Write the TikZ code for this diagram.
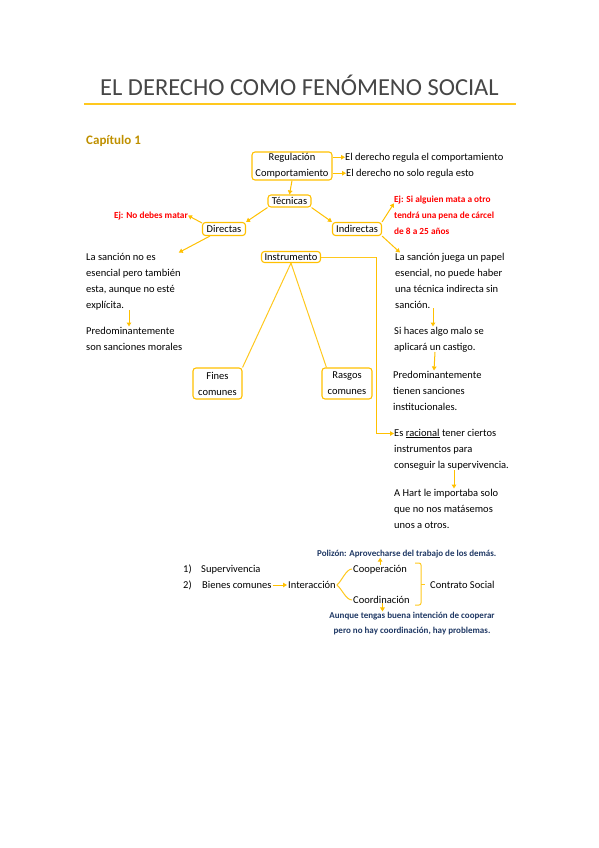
\documentclass[tikz,border=0pt]{standalone}
\usepackage{fontspec}
\setmainfont{Carlito}
\usetikzlibrary{arrows.meta, positioning, calc}
\definecolor{derechogold}{RGB}{255,192,0}
\definecolor{derecholine}{RGB}{255,200,30}
\definecolor{capgold}{RGB}{191,144,0}
\definecolor{titlegray}{RGB}{70,70,70}
\definecolor{ejred}{RGB}{255,0,0}
\definecolor{notablue}{RGB}{31,56,100}

\begin{document}
\begin{tikzpicture}[x=1pt, y=-1pt,
  box/.style={draw=derechogold, line width=1.1pt, rounded corners=3pt,
    inner sep=1.5pt, align=center, font=\fontsize{10.5}{16}\selectfont},
  txt/.style={anchor=base west, inner sep=0pt, align=left,
    font=\fontsize{10.5}{16}\selectfont},
  ej/.style={txt, text=ejred, font=\fontsize{9.3}{16}\selectfont\bfseries},
  nota/.style={txt, text=notablue, font=\fontsize{9}{15}\selectfont\bfseries},
  arr/.style={-{Triangle[length=4pt,width=4.5pt]}, derechogold, line width=1pt},
  ln/.style={derecholine, line width=1pt}
]
\useasboundingbox (0,0) rectangle (599,848);

% Title
\node[anchor=base west, inner sep=0pt, text=titlegray,
      font=\fontsize{24.5}{30}\selectfont] (title) at (100,96)
  {EL DERECHO COMO FENÓMENO SOCIAL};
\draw[derecholine, line width=1.2pt] (84,104) -- (516,104);
\node[anchor=base west, inner sep=0pt, text=capgold,
      font=\fontsize{13}{15}\selectfont\bfseries] (cap) at (86,144)
  {Capítulo 1};

% Boxes
\node[box, minimum width=80pt, minimum height=28pt] (Reg) at (292,166)
  {Regulación\\Comportamiento};
\node[box, minimum width=43pt, minimum height=12pt] (Tec) at (289.5,201) {Técnicas};
\node[box, minimum width=43pt, minimum height=13pt] (Dir) at (224,229) {Directas};
\node[box, minimum width=49pt, minimum height=13pt] (Ind) at (357,229) {Indirectas};
\node[box, minimum width=59pt, minimum height=11pt] (Ins) at (291,257) {Instrumento};
\node[box, minimum width=49pt, minimum height=31pt] (Fin) at (217.5,383.5)
  {Fines\\comunes};
\node[box, minimum width=50pt, minimum height=31pt] (Ras) at (347,383.5)
  {Rasgos\\comunes};

% Regulacion texts
\node[txt] (RegA) at (345,160) {El derecho regula el comportamiento};
\node[txt] (RegB) at (346,176) {El derecho no solo regula esto};
\draw[arr] (Reg.east |- RegA.west) -- (RegA.west);
\draw[arr] (Reg.east |- RegB.west) -- (RegB.west);
\draw[arr] (Reg.south) -- (Tec.north);

% Tecnicas branches
\draw[arr] (Tec.south west) -- (Dir.north east);
\draw[arr] (Tec.south east) -- (Ind.north west);

% Left annotations (Directas)
\node[ej, anchor=base east] (EjL) at (188,218) {Ej: No debes matar};
\node[txt] (L1) at (86,308)
  {La sanción no es\\esencial pero también\\esta, aunque no esté\\explícita.};
\node[txt] (L2) at (86,350) {Predominantemente\\son sanciones morales};
\draw[arr] ([yshift=-1pt]Dir.north west) -- (EjL.east);
\draw[arr] ([xshift=8pt]Dir.south west) -- ([xshift=-2pt]L1.north east);
\draw[arr] ([xshift=43pt]L1.south west) -- ([xshift=43pt]L2.north west);

% Right annotations (Indirectas)
\node[ej] (EjR) at (394,234)
  {Ej: Si alguien mata a otro\\tendrá una pena de cárcel\\de 8 a 25 años};
\node[txt] (R1) at (395,308)
  {La sanción juega un papel\\esencial, no puede haber\\una técnica indirecta sin\\sanción.};
\node[txt] (R2) at (394,350) {Si haces algo malo se\\aplicará un castigo.};
\node[txt] (R3) at (393,410) {Predominantemente\\tienen sanciones\\institucionales.};
\draw[arr] (Ind.north east) -- ([yshift=-8pt]EjR.north west);
\draw[arr] (Ind.south east) -- ([xshift=5pt]R1.north west);
\draw[arr] ([xshift=38pt]R1.south west) -- ([xshift=39pt]R2.north west);
\draw[arr] ([xshift=41pt]R2.south west) -- ([xshift=41pt]R3.north west);

% Instrumento
\draw[ln] (Ins.south) -- (Fin.north east);
\draw[ln] (Ins.south) -- ([xshift=5pt]Ras.north west);
\node[txt] (R4) at (394,468)
  {Es \underline{racional} tener ciertos\\instrumentos para\\conseguir la supervivencia.};
\node[txt] (R5) at (394,528)
  {A Hart le importaba solo\\que no nos matásemos\\unos a otros.};
\coordinate (InsBend) at (376,257);
\draw[ln] (Ins.east) -- (InsBend);
\draw[arr] (InsBend) |- ([yshift=-5pt]R4.north west);
\draw[arr] ([xshift=60pt]R4.south west) -- ([xshift=60pt]R5.north west);

% Bottom: Contrato Social
\node[txt] (li1) at (183,572) {\makebox[18pt][l]{1)}Supervivencia};
\node[txt] (li2) at (183,588) {\makebox[19pt][l]{2)}Bienes comunes};
\node[txt] (Inter) at (288,588) {Interacción};
\node[txt] (Coop) at (353,572) {Cooperación};
\node[txt] (Coord) at (353,603) {Coordinación};
\node[txt] (Contr) at (430,588) {Contrato Social};
\draw[arr] ([xshift=1pt,yshift=3pt]li2.base east) -- ([xshift=-1pt,yshift=3pt]Inter.base west);
\draw[ln] ([xshift=1pt,yshift=3pt]Inter.base east)
  .. controls +(5,-4) and +(-6,0) .. ([xshift=-1pt,yshift=3pt]Coop.base west);
\draw[ln] ([xshift=1pt,yshift=3pt]Inter.base east)
  .. controls +(5,4) and +(-6,0) .. ([xshift=-1pt,yshift=3pt]Coord.base west);
\draw[ln, rounded corners=2pt] (415,563) -- (421,563) -- (421,605) -- (415,605);
\draw[ln] (421,584) -- (425,584);
\node[nota] (Poliz) at (317,556) {Polizón: Aprovecharse del trabajo de los demás.};
\node[nota, align=center, anchor=base] (Aunque) at (412,633)
  {Aunque tengas buena intención de cooperar\\pero no hay coordinación, hay problemas.};
\draw[arr] (Coop.north) -- (Coop.north |- Poliz.south);
\draw[arr] ([xshift=1pt]Coord.south) -- ([xshift=1pt]Coord.south |- Aunque.north);
\end{tikzpicture}
\end{document}
